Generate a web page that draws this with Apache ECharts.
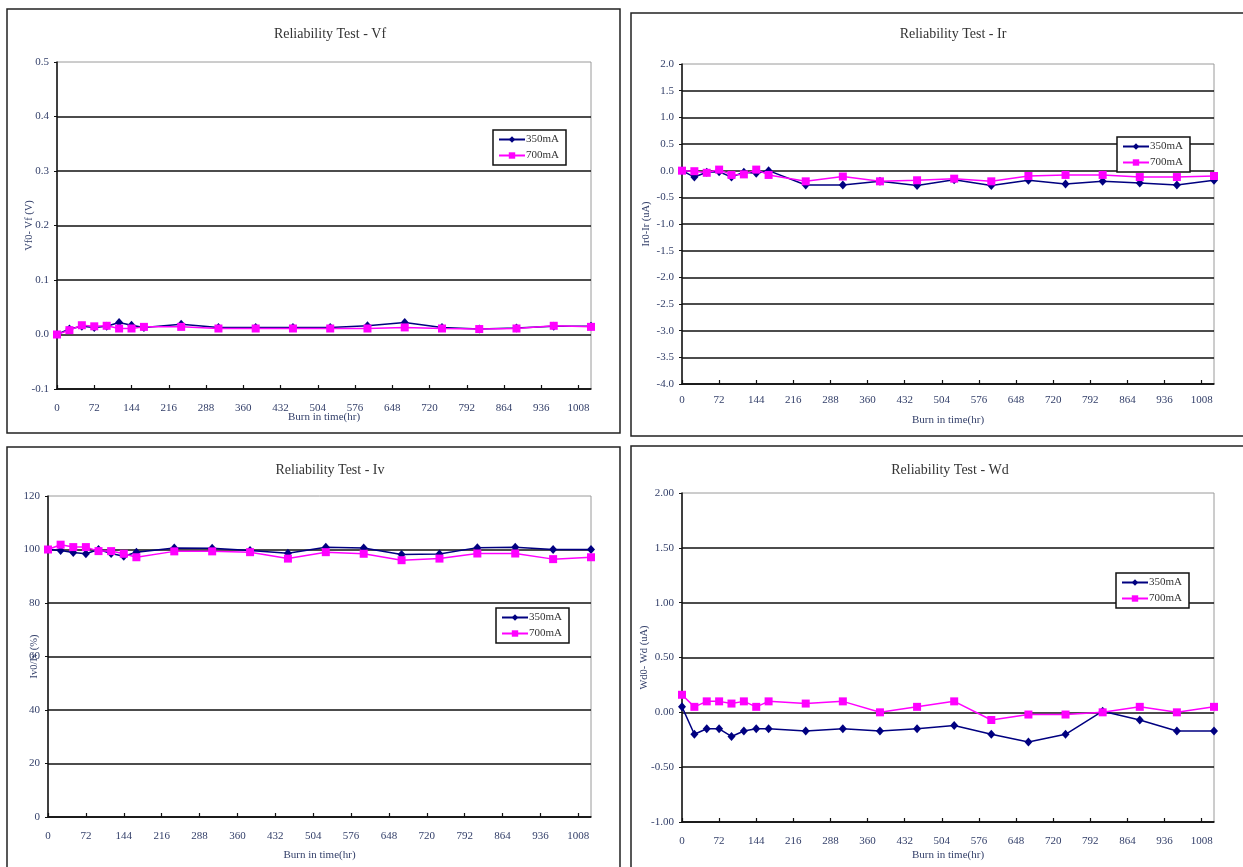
<!DOCTYPE html>
<html><head><meta charset="utf-8">
<script src="https://cdn.jsdelivr.net/npm/echarts@6/dist/echarts.min.js"></script>
<style>html,body{margin:0;padding:0;background:#fff}#c{width:1243px;height:867px}</style>
</head><body><div id="c"></div>
<script>
// ---- data ----
const hours = [0,24,48,72,96,120,144,168,240,312,384,456,528,600,672,744,816,888,960,1032];
const xTickStep = 72;
const seriesNames = ['350mA','700mA'];
const titles = ['Reliability Test - Vf','Reliability Test - Ir','Reliability Test - Iv','Reliability Test - Wd'];
const yNames = ['Vf0- Vf (V)','Ir0-Ir (uA)','Iv0/Iv (%)','Wd0- Wd (uA)'];
const xName = 'Burn in time(hr)';

const vf350 = [0,0.010,0.015,0.013,0.015,0.022,0.017,0.013,0.019,0.013,0.013,0.013,0.013,0.016,0.022,0.013,0.010,0.012,0.015,0.015];
const vf700 = [0,0.008,0.017,0.015,0.016,0.011,0.011,0.014,0.014,0.011,0.011,0.011,0.011,0.011,0.013,0.011,0.010,0.011,0.016,0.014];

const ir350 = [0,-0.12,-0.03,-0.02,-0.12,-0.03,-0.05,0,-0.27,-0.27,-0.2,-0.28,-0.17,-0.28,-0.18,-0.25,-0.2,-0.23,-0.27,-0.18];
const ir700 = [0,-0.01,-0.04,0.02,-0.08,-0.07,0.02,-0.08,-0.2,-0.11,-0.2,-0.18,-0.15,-0.2,-0.1,-0.08,-0.08,-0.12,-0.12,-0.1];

const iv350 = [100,99.6,98.9,98.4,100,98.5,97.5,99,100.6,100.5,99.6,98.6,100.8,100.6,98.1,98.3,100.7,100.8,100,100];
const iv700 = [100,101.8,100.9,100.9,99.4,99.4,98.4,97.1,99.3,99.3,99,96.6,99,98.4,96,96.6,98.5,98.5,96.4,97.1];

const wd350 = [0.05,-0.2,-0.15,-0.15,-0.22,-0.17,-0.15,-0.15,-0.17,-0.15,-0.17,-0.15,-0.12,-0.2,-0.27,-0.2,0.01,-0.07,-0.17,-0.17];
const wd700 = [0.16,0.05,0.1,0.1,0.08,0.1,0.05,0.1,0.08,0.1,0,0.05,0.1,-0.07,-0.02,-0.02,0,0.05,0,0.05];

const yMins = [-0.1,-4,0,-1];
const yMaxs = [0.5,2,120,2];
const yIntervals = [0.1,0.5,20,0.5];
const yDecimals = [1,1,0,2];
const panelData = [[vf350,vf700],[ir350,ir700],[iv350,iv700],[wd350,wd700]];

// ---- layout / style ----
const FONT = 'Liberation Serif';
const labelColor = '#34406a';
const colors = ['#000080','#ff00ff'];
const symbols = ['diamond','rect'];
const symbolSizes = [[8,9],8];
const layout = [
  {grid:{left:57,top:62,width:534,height:327}, title:{x:325,y:22}, legend:{left:493,top:130}, frame:[7,9,613,424], xLabelMargin:14, xNameGap:23, yNameGap:22},
  {grid:{left:682,top:64,width:532,height:320}, title:{x:948,y:22}, legend:{left:1117,top:137}, frame:[631,13,640,423], xLabelMargin:11, xNameGap:31, yNameGap:30},
  {grid:{left:48,top:496,width:543,height:321}, title:{x:325,y:458}, legend:{left:496,top:608}, frame:[7,447,613,440], xLabelMargin:14, xNameGap:33, yNameGap:8},
  {grid:{left:682,top:493,width:532,height:329}, title:{x:945,y:458}, legend:{left:1116,top:573}, frame:[631,446,640,440], xLabelMargin:14, xNameGap:28, yNameGap:32}
];

const option = {
  backgroundColor:'#fff', animation:false,
  title:[], grid:[], xAxis:[], yAxis:[], legend:[], series:[], graphic:[]
};

layout.forEach((L,i)=>{
  option.grid.push(Object.assign({show:true,borderColor:'#9a9a9a',borderWidth:1,backgroundColor:'#fff'},L.grid));
  option.title.push({text:titles[i],left:L.title.x,top:L.title.y,textAlign:'center',
    textStyle:{fontFamily:FONT,fontSize:14,fontWeight:'normal',color:'#333'}});
  option.xAxis.push({type:'value',gridIndex:i,min:0,max:hours[hours.length-1],interval:xTickStep,
    name:xName,nameLocation:'middle',nameGap:L.xNameGap,nameMoveOverlap:false,
    nameTextStyle:{fontFamily:FONT,fontSize:11,color:labelColor},
    axisLine:{onZero:false,lineStyle:{color:'#111',width:1.5}},
    axisTick:{show:true,inside:true,length:4,lineStyle:{color:'#111',width:1.2}},
    axisLabel:{fontFamily:FONT,fontSize:11,color:labelColor,margin:L.xLabelMargin,showMaxLabel:false,
      formatter:v=>String(v)},
    splitLine:{show:false}});
  option.yAxis.push({type:'value',gridIndex:i,min:yMins[i],max:yMaxs[i],interval:yIntervals[i],
    name:yNames[i],nameLocation:'middle',nameGap:L.yNameGap,nameRotate:90,nameMoveOverlap:false,
    nameTextStyle:{fontFamily:FONT,fontSize:10.5,color:labelColor},
    axisLine:{show:true,onZero:false,lineStyle:{color:'#111',width:1.5}},
    axisTick:{show:true,length:3,lineStyle:{color:'#111'}},
    axisLabel:{fontFamily:FONT,fontSize:11,color:labelColor,margin:8,
      formatter:v=>Number(v).toFixed(yDecimals[i])},
    splitLine:{show:true,showMaxLine:false,lineStyle:{color:'#111',width:1.5}}});
  option.legend.push({data:seriesNames.slice(),orient:'vertical',left:L.legend.left,top:L.legend.top,
    backgroundColor:'#fff',borderColor:'#111',borderWidth:1.5,borderRadius:0,padding:[4,7,4,5],
    itemGap:5,itemWidth:26,itemHeight:8,selectedMode:false,
    textStyle:{fontFamily:FONT,fontSize:11,color:'#333',padding:[0,0,0,-4]}});
  panelData[i].forEach((vals,k)=>{
    option.series.push({type:'line',name:seriesNames[k],xAxisIndex:i,yAxisIndex:i,
      data:hours.map((h,j)=>[h,vals[j]]),
      symbol:symbols[k],symbolSize:symbolSizes[k],showAllSymbol:true,
      lineStyle:{color:colors[k],width:1.5},itemStyle:{color:colors[k]},z:2+k});
  });
  option.graphic.push({type:'rect',silent:true,z:-1,
    shape:{x:L.frame[0],y:L.frame[1],width:L.frame[2],height:L.frame[3]},
    style:{fill:null,stroke:'#222',lineWidth:1.5}});
});

const chart = echarts.init(document.getElementById('c'),null,{renderer:'canvas'});
chart.setOption(option);
</script>
</body></html>
